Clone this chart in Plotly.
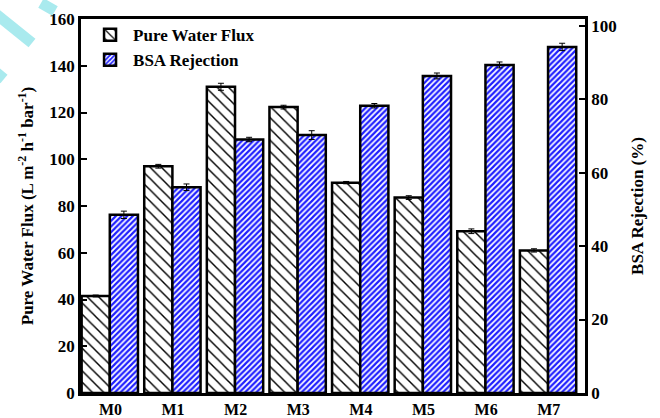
import plotly.graph_objects as go

# Membrane samples
membranes = ["M0", "M1", "M2", "M3", "M4", "M5", "M6", "M7"]

# Pure water flux (L m-2 h-1 bar-1) and its error
flux = [41.5, 97.0, 131.0, 122.3, 90.0, 83.6, 69.2, 61.0]
flux_err = [0.4, 0.8, 1.5, 0.8, 0.5, 0.8, 1.0, 0.7]

# BSA rejection (%) and its error
rejection = [48.5, 56.0, 69.0, 70.2, 78.2, 86.3, 89.3, 94.2]
rejection_err = [1.0, 0.9, 0.6, 1.2, 0.6, 0.8, 0.8, 1.0]

left_ticks = [0, 20, 40, 60, 80, 100, 120, 140, 160]
right_ticks = [0, 20, 40, 60, 80, 100]

FONT = "Liberation Serif"
x_pos = list(range(len(membranes)))

fig = go.Figure()

fig.add_trace(go.Bar(
    name="<b>Pure Water Flux</b>",
    x=x_pos, y=flux,
    width=0.45, offset=-0.46,
    marker=dict(
        color="white",
        line=dict(color="black", width=2.5),
        pattern=dict(shape="\\", fgcolor="black", bgcolor="white",
                     size=8, solidity=0.18, fillmode="replace"),
    ),
    error_y=dict(type="data", array=flux_err, color="black",
                 thickness=1, width=3),
    yaxis="y",
))

fig.add_trace(go.Bar(
    name="<b>BSA Rejection</b>",
    x=x_pos, y=rejection,
    width=0.45, offset=-0.01,
    marker=dict(
        color="white",
        line=dict(color="black", width=2.5),
        pattern=dict(shape="/", fgcolor="#1e1eff", bgcolor="white",
                     size=4, solidity=0.55, fillmode="replace"),
    ),
    error_y=dict(type="data", array=rejection_err, color="black",
                 thickness=1, width=3),
    yaxis="y2",
))

axis_font = dict(family=FONT, size=17, color="black")

fig.update_layout(
    width=660, height=418,
    margin=dict(l=81, r=75, t=19, b=25, autoexpand=False),
    paper_bgcolor="white",
    plot_bgcolor="white",
    font=dict(family=FONT, color="black"),
    showlegend=True,
    legend=dict(
        x=0.012, y=1.005, xanchor="left", yanchor="top",
        bgcolor="rgba(0,0,0,0)",
        font=dict(family=FONT, size=17, color="black"),
        tracegroupgap=0, itemwidth=36,
    ),
    xaxis=dict(
        range=[-0.47, 7.58], automargin=False,
        tickmode="array", tickvals=x_pos,
        ticktext=["<b>%s</b>" % m for m in membranes],
        tickfont=dict(family=FONT, size=16, color="black"),
        ticklabelstandoff=0,
        showline=True, linecolor="black", linewidth=2.5,
        mirror=True, ticks="", showgrid=False, zeroline=False,
    ),
    xaxis2=dict(
        range=[0, 503], overlaying="x", side="top", anchor="y",
        automargin=False,
        tickmode="linear", tick0=0, dtick=50,
        ticks="inside", ticklen=4, tickwidth=1, tickcolor="black",
        showticklabels=False, showgrid=False, zeroline=False,
        showline=False,
    ),
    yaxis=dict(
        range=[0, 160], automargin=False,
        tickmode="array", tickvals=left_ticks,
        ticktext=["<b>%d</b>" % v for v in left_ticks],
        tickfont=axis_font,
        ticks="inside", ticklen=6, tickwidth=2, tickcolor="black",
        showline=True, linecolor="black", linewidth=2.5,
        showgrid=False, zeroline=False,
        title=dict(
            text="<b>Pure Water Flux (L m<sup>-2</sup> h<sup>-1</sup> bar<sup>-1</sup>)</b>",
            font=dict(family=FONT, size=17, color="black"),
            standoff=12,
        ),
    ),
    yaxis2=dict(
        range=[0, 101.8], overlaying="y", side="right", anchor="x",
        automargin=False,
        tickmode="array", tickvals=right_ticks,
        ticktext=["<b>%d</b>" % v for v in right_ticks],
        tickfont=axis_font,
        ticks="inside", ticklen=6, tickwidth=2, tickcolor="black",
        showline=True, linecolor="black", linewidth=2.5,
        showgrid=False, zeroline=False,
        title=dict(
            text="<b>BSA Rejection (%)</b>",
            font=dict(family=FONT, size=17, color="black"),
            standoff=16,
        ),
    ),
)

# Light cyan strokes in the upper-left corner
W, H, L, B = 504.0, 374.0, 81.0, 393.0


def px(xp, yp):
    return (xp - L) / W, (B - yp) / H


for (x0, y0, x1, y1) in [(-4, 14, 32, 43), (41, 3, 55, 11), (-8, 69, 4, 79)]:
    a0, b0 = px(x0, y0)
    a1, b1 = px(x1, y1)
    fig.add_shape(type="line", xref="paper", yref="paper",
                  x0=a0, y0=b0, x1=a1, y1=b1,
                  line=dict(color="#a9eaee", width=11), layer="above")

fig.write_html("out.html")
